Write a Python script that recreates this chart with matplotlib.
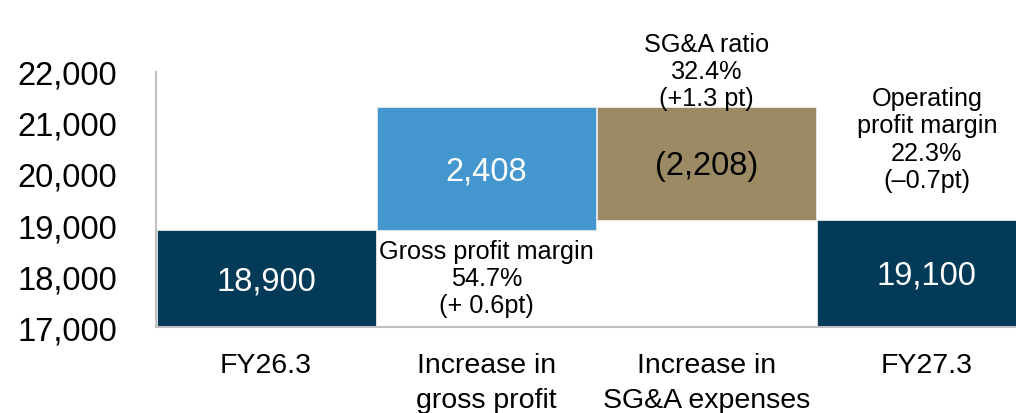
import numpy as np
import matplotlib.pyplot as plt

plt.rcParams['font.family'] = ['Liberation Sans', 'DejaVu Sans']

# waterfall data (JPY mn)
categories = ['FY26.3', 'Increase in\ngross profit', 'Increase in\nSG&A expenses', 'FY27.3']
start_value = 18900
gp_change = 2408
sga_change = -2208
end_value = 19100
notes = ['', 'Gross profit margin\n54.7%\n(+ 0.6pt)', 'SG&A ratio\n32.4%\n(+1.3 pt)',
         'Operating\nprofit margin\n22.3%\n(\u20130.7pt)']
yticks = [17000, 18000, 19000, 20000, 21000, 22000]

navy = '#033a58'
blue = '#4397ce'
khaki = '#9b8a63'
ybase = 17000

tops = [start_value, start_value + gp_change, start_value + gp_change, end_value]
bottoms = [ybase, start_value, start_value + gp_change + sga_change, ybase]
colors = [navy, blue, khaki, navy]
labels = ['{:,}'.format(start_value), '{:,}'.format(gp_change),
          '({:,})'.format(-sga_change), '{:,}'.format(end_value)]
x = np.arange(len(categories))

fig = plt.figure(figsize=(10.16, 4.14), dpi=100)
ax = fig.add_axes([0.1535, 0.2077, 0.8465, 0.616])

heights = [t - b for t, b in zip(tops, bottoms)]
ax.bar(x, heights, bottom=bottoms, width=0.995, color=colors, edgecolor='#e8e8e8', linewidth=0.6)

for i in range(len(x)):
    mid = bottoms[i] + heights[i] / 2
    txtcol = 'black' if colors[i] == khaki else 'white'
    ax.text(x[i], mid - 40, labels[i], ha='center', va='center', color=txtcol, fontsize=23.5)

# margin annotations
ax.text(x[1], 17960, notes[1], ha='center', va='center', fontsize=18.2, linespacing=1.17)
ax.text(x[2], 22020, notes[2], ha='center', va='center', fontsize=18.2, linespacing=1.17, clip_on=False)
ax.text(x[3], 20686, notes[3], ha='center', va='center', fontsize=18.2, linespacing=1.17)

ax.set_xlim(-0.5, 3.405)
ax.set_ylim(17000, 22000)
ax.set_yticks(yticks)
ax.set_yticklabels(['{:,}'.format(v) for v in yticks], fontsize=23.5)
ax.set_xticks(x)
ax.set_xticklabels(categories, fontsize=20.5, linespacing=1.45)
ax.tick_params(axis='y', length=0, pad=28)
ax.tick_params(axis='x', length=0, pad=18)

for s in ['top', 'right']:
    ax.spines[s].set_visible(False)
for s in ['left', 'bottom']:
    ax.spines[s].set_color('#c0c0c0')
    ax.spines[s].set_linewidth(1.5)

plt.savefig('out.png', dpi=100)
